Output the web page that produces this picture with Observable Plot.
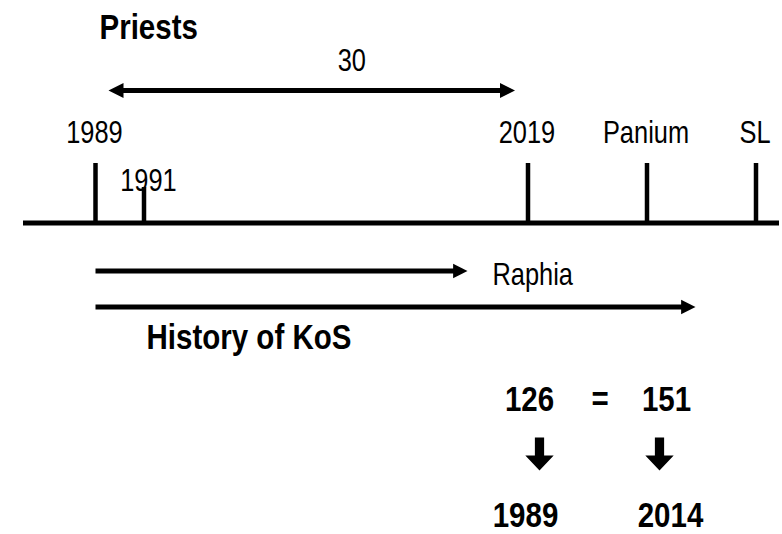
<!DOCTYPE html>
<html><head><meta charset="utf-8">
<script src="https://cdn.jsdelivr.net/npm/d3@7"></script>
<script src="https://cdn.jsdelivr.net/npm/@observablehq/plot@0.6"></script>
<style>html,body{margin:0;padding:0;background:#fff}svg{display:block}</style>
</head><body><div id="chart"></div>
<script>
// ---- data ----
const events = ["1989", "1991", "2019", "Panium", "SL"];
const eventPos = [95, 143.5, 527.5, 646.5, 755.5];
const eventKind = ["major", "minor", "major", "major", "major"];
const spanLabel = "30";
const spanFrom = "1989";
const spanTo = "2019";
const rangeLabels = ["Raphia", "History of KoS"];
const rangeEnd = [467, 695];
const title = "Priests";
const eqLeft = ["126", "1989"];
const eqRight = ["151", "2014"];
const eqSign = "=";

// ---- layout ----
const W = 782, H = 534;
const FONT = "'Liberation Sans Narrow', 'Arial Narrow', 'Liberation Sans', Arial, sans-serif";
const NARROW = 0.82; // horizontal condensing of the text (narrow face look)
const baseY = 222.5, axisX1 = 23, axisX2 = 779;
const tickTop = {major: 163, minor: 187};
const labelBase = {major: 142, minor: 190};
const labelDx = {major: -1, minor: 4.5};
const spanY = 90, spanInset = 13, spanLabelBase = 70, spanLabelDx = 40;
const rangeY = [270.5, 306.5];
const eqX = [529, 666], eqArrowX = [539, 659], eqBottomX = [525, 670];
const REG = 31, BOLD = 36;

const posOf = Object.fromEntries(events.map((e, i) => [e, eventPos[i]]));
const ticks = events.map((e, i) => ({label: e, x: eventPos[i], kind: eventKind[i]}));

// custom symbols
const triRight = {draw(ctx, size) { const r = Math.sqrt(size / Math.PI); ctx.moveTo(0, 0); ctx.lineTo(-2 * r, -r); ctx.lineTo(-2 * r, r); ctx.closePath(); }};
const triLeft = {draw(ctx, size) { const r = Math.sqrt(size / Math.PI); ctx.moveTo(0, 0); ctx.lineTo(2 * r, -r); ctx.lineTo(2 * r, r); ctx.closePath(); }};
const blockDown = {draw(ctx, size) {
  const r = Math.sqrt(size / Math.PI);
  const sw = 0.28 * r, hw = 0.86 * r, hy = 0.09 * r;
  ctx.moveTo(-sw, -r); ctx.lineTo(sw, -r); ctx.lineTo(sw, hy); ctx.lineTo(hw, hy);
  ctx.lineTo(0, r); ctx.lineTo(-hw, hy); ctx.lineTo(-sw, hy); ctx.closePath();
}};

const span = [{x1: posOf[spanFrom] + spanInset, x2: posOf[spanTo] - spanInset, label: spanLabel}];
const ranges = rangeLabels.map((l, i) => ({label: l, x1: posOf[spanFrom], x2: rangeEnd[i], y: rangeY[i]}));
const eqTop = [{t: eqLeft[0], x: eqX[0]}, {t: eqSign, x: (eqX[0] + eqX[1]) / 2 + 2}, {t: eqRight[0], x: eqX[1]}];
const eqBottom = [{t: eqLeft[1], x: eqBottomX[0]}, {t: eqRight[1], x: eqBottomX[1]}];

const txt = {fill: "black", fontFamily: FONT, lineAnchor: "bottom"};

const chart = Plot.plot({
  width: W, height: H,
  margin: 0,
  x: {domain: [0, W], range: [0, W], axis: null},
  y: {domain: [0, H], range: [0, H], axis: null},
  style: {fontFamily: FONT, background: "white", color: "black"},
  marks: [
    // main axis
    Plot.ruleY([baseY], {x1: axisX1, x2: axisX2, stroke: "black", strokeWidth: 5}),
    // event ticks
    Plot.ruleX(ticks, {x: "x", y1: d => tickTop[d.kind], y2: baseY + 1, stroke: "black", strokeWidth: 4.5}),
    Plot.text(ticks, {x: d => d.x + labelDx[d.kind], y: d => labelBase[d.kind], text: "label", fontSize: REG, ...txt}),
    // span double arrow
    Plot.link(span, {x1: d => d.x1 + 10, x2: d => d.x2 - 10, y1: spanY, y2: spanY, stroke: "black", strokeWidth: 5}),
    Plot.dot(span, {x: "x2", y: spanY, symbol: triRight, r: 7.5, fill: "black", stroke: "none"}),
    Plot.dot(span, {x: "x1", y: spanY, symbol: triLeft, r: 7.5, fill: "black", stroke: "none"}),
    Plot.text(span, {x: d => (d.x1 + d.x2) / 2 + spanLabelDx, y: spanLabelBase, text: "label", fontSize: REG, ...txt}),
    // title
    Plot.text([title], {x: 99, y: 38, text: d => d, fontSize: BOLD, fontWeight: "bold", textAnchor: "start", ...txt}),
    // range arrows
    Plot.link(ranges, {x1: "x1", x2: d => d.x2 - 10, y1: "y", y2: "y", stroke: "black", strokeWidth: 5}),
    Plot.dot(ranges, {x: "x2", y: "y", symbol: triRight, r: 7.2, fill: "black", stroke: "none"}),
    Plot.text(ranges.slice(0, 1), {x: d => d.x2 + 25, y: 284, text: "label", fontSize: REG, textAnchor: "start", ...txt}),
    Plot.text(ranges.slice(1), {x: d => d.x1 + 51, y: 348, text: "label", fontSize: BOLD, fontWeight: "bold", textAnchor: "start", ...txt}),
    // equation
    Plot.text(eqTop, {x: "x", y: 410, text: "t", fontSize: BOLD, fontWeight: "bold", ...txt}),
    Plot.dot(eqArrowX, {x: d => d, y: 453.5, symbol: blockDown, r: 16.5, fill: "black", stroke: "none"}),
    Plot.text(eqBottom, {x: "x", y: 526, text: "t", fontSize: BOLD, fontWeight: "bold", ...txt})
  ]
});
// condense text horizontally to mimic a narrow typeface
chart.querySelectorAll("text").forEach(t => {
  const tr = t.getAttribute("transform");
  if (tr) {
    t.setAttribute("transform", `${tr} scale(${NARROW},1)`);
  } else {
    const x = +(t.getAttribute("x") || 0), y = +(t.getAttribute("y") || 0);
    t.removeAttribute("x"); t.removeAttribute("y");
    t.setAttribute("transform", `translate(${x},${y}) scale(${NARROW},1)`);
  }
});
document.getElementById("chart").appendChild(chart);
</script>
</body></html>
